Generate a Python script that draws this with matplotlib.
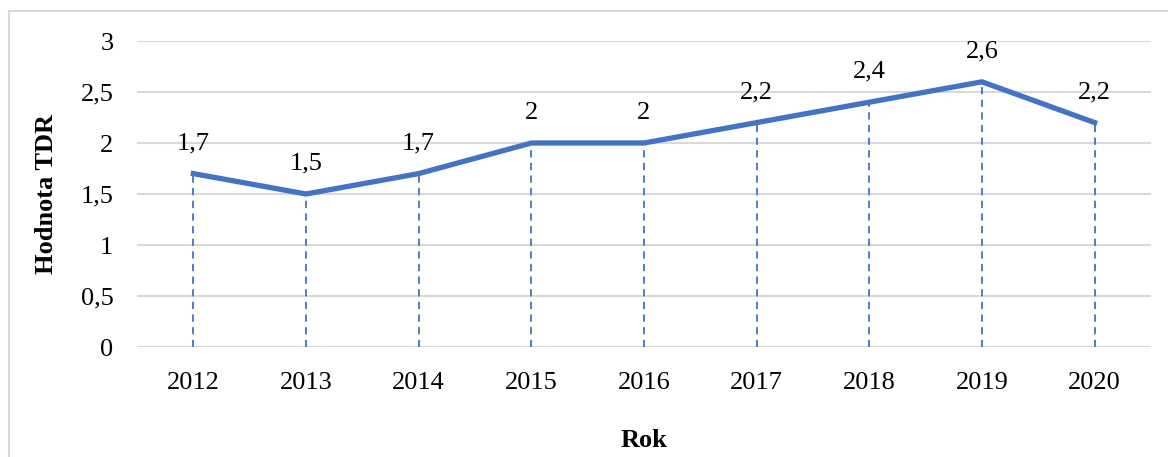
import matplotlib.pyplot as plt
from matplotlib.patches import Rectangle
from matplotlib.ticker import FuncFormatter

years = ['2012', '2013', '2014', '2015', '2016', '2017', '2018', '2019', '2020']
tdr = [1.7, 1.5, 1.7, 2.0, 2.0, 2.2, 2.4, 2.6, 2.2]
y_ticks = [0, 0.5, 1, 1.5, 2, 2.5, 3]

W, H = 1168, 457
plt.rcParams['font.family'] = ['Liberation Serif', 'DejaVu Serif']

fig = plt.figure(figsize=(W / 100, H / 100), dpi=100)
ax = fig.add_axes([137 / W, (H - 347) / H, (1151 - 137) / W, (347 - 41) / H])

# outer frame of the chart (partly cut off at right and bottom)
fig.patches.append(Rectangle((9 / W, -0.1), 1.2, (H - 11) / H + 0.1,
                             transform=fig.transFigure, fill=False,
                             edgecolor='#D9D9D9', linewidth=1.5))

blue = '#4472C4'
x = list(range(len(years)))

# dashed drop lines from each point down to the axis
ax.vlines(x, 0, tdr, colors=blue, linestyles=(0, (4, 3)), linewidth=1.3, zorder=2)
ax.plot(x, tdr, color=blue, linewidth=3.8, solid_joinstyle='round', zorder=3)

for xi, v in zip(x, tdr):
    label = ('%g' % v).replace('.', ',')
    ax.annotate(label, (xi, v), xytext=(0, 14), textcoords='offset points',
                ha='center', va='bottom', fontsize=19)

ax.set_xlim(-0.5, len(years) - 0.5)
ax.set_ylim(0, 3)
ax.set_xticks(x)
ax.set_xticklabels(years)
ax.set_yticks(y_ticks)
ax.yaxis.set_major_formatter(FuncFormatter(lambda v, p: ('%g' % v).replace('.', ',')))
ax.tick_params(length=0, labelsize=19, pad=18)
ax.tick_params(axis='y', pad=17)
ax.grid(axis='y', color='#D9D9D9', linewidth=1.5)
ax.set_axisbelow(True)
for s in ax.spines.values():
    s.set_visible(False)

ax.set_ylabel('Hodnota TDR', fontsize=19, fontweight='bold', labelpad=16)
ax.set_xlabel('Rok', fontsize=19, fontweight='bold', labelpad=25)

fig.savefig('out.png', dpi=100)
